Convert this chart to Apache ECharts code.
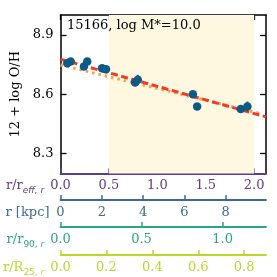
<!DOCTYPE html>
<html>
<head>
<meta charset="utf-8">
<script src="https://cdn.jsdelivr.net/npm/echarts@6/dist/echarts.min.js"></script>
<style>html,body{margin:0;padding:0;background:#fff}#c{width:277px;height:277px}</style>
</head>
<body>
<div id="c"></div>
<script>
// Data (r/r_eff, 12+log O/H)
var pointsR = [0.07, 0.105, 0.242, 0.276, 0.429, 0.470, 0.770, 0.798, 1.367, 1.411, 1.861, 1.930];
var pointsOH = [8.757, 8.765, 8.740, 8.765, 8.731, 8.726, 8.659, 8.673, 8.600, 8.538, 8.525, 8.538];
var pointsErr = [0, 0, 0, 0, 0, 0, 0, 0.025, 0, 0, 0, 0.025];
var fitRedR = [0, 2.122];
var fitRedOH = [8.777, 8.486];
var fitOrangeR = [0, 2.08];
var fitOrangeOH = [8.748, 8.501];
var shadeRange = [0.5, 2.0];
var reffTicks = [0.0, 0.5, 1.0, 1.5, 2.0];
var kpcTicks = [0, 2, 4, 6, 8];
var r90Ticks = [0.0, 0.5, 1.0];
var r25Ticks = [0.0, 0.2, 0.4, 0.6, 0.8];
var yTicks = [8.3, 8.6, 8.9];
var titleText = '15166, log M*=10.0';

var FONT = 'DejaVu Serif';
var C_REFF = '#5a3d8e', C_KPC = '#3c6a94', C_R90 = '#2aa585', C_R25 = '#bdd62c';

function zip(a, b) { return a.map(function (v, i) { return [v, b[i]]; }); }

function bottomAxis(idx, offset, max, ticks, color, name, fmt) {
  return {
    type: 'value', position: 'bottom', gridIndex: 0, offset: offset,
    min: 0, max: max,
    axisLine: { show: true, onZero: false, lineStyle: { color: color, width: 1.8 } },
    axisTick: { show: true, inside: true, length: 5, customValues: ticks, lineStyle: { color: color, width: 1.5 } },
    axisLabel: { show: true, customValues: ticks, margin: 6, color: color, fontSize: 13, fontFamily: FONT,
      formatter: function (v) { return fmt(v); } },
    splitLine: { show: false },
    name: name, nameLocation: 'start', nameGap: 11,
    nameTextStyle: { color: color, fontSize: 13, fontFamily: FONT, verticalAlign: 'top', align: 'right', padding: [6, 0, 0, 0],
      rich: {
        a: { color: color, fontSize: 13, fontFamily: FONT, verticalAlign: 'bottom', padding: [0, 0, 3, 0] },
        s: { color: color, fontSize: 9, fontFamily: 'DejaVu Sans', verticalAlign: 'bottom' },
        i: { color: color, fontSize: 9, fontFamily: 'DejaVu Sans', fontStyle: 'italic', verticalAlign: 'bottom' }
      } }
  };
}
function f1(v) { return v.toFixed(1); }
function f0(v) { return String(Math.round(v)); }

var option = {
  animation: false,
  backgroundColor: '#fff',
  title: { text: titleText, left: 67, top: 19, padding: 0,
    textStyle: { fontFamily: FONT, fontSize: 13, fontWeight: 'normal', color: '#000' } },
  grid: { left: 58, right: 11, top: 15, bottom: 103.5, containLabel: false },
  xAxis: [
    bottomAxis(0, 0, 2.122, reffTicks, C_REFF, '{a|r/r}{i|eff, r}', f1),
    bottomAxis(1, 26.5, 9.95, kpcTicks, C_KPC, '{a|r [kpc]}', f0),
    bottomAxis(2, 53.5, 1.268, r90Ticks, C_R90, '{a|r/r}{s|90, }{i|r}', f1),
    bottomAxis(3, 81.5, 0.895, r25Ticks, C_R25, '{a|r/R}{s|25, }{i|r}', f1),
    { type: 'value', position: 'top', min: 0, max: 2.122,
      axisLine: { show: true, onZero: false, lineStyle: { color: '#000', width: 1.5 } },
      axisTick: { show: true, inside: true, length: 5, customValues: reffTicks, lineStyle: { color: '#000', width: 1.3 } },
      axisLabel: { show: false }, splitLine: { show: false } }
  ],
  yAxis: [
    { type: 'value', position: 'left', min: 8.2, max: 9.0,
      axisLine: { show: true, onZero: false, lineStyle: { color: '#000', width: 1.5 } },
      axisTick: { show: true, inside: true, length: 6, customValues: yTicks, lineStyle: { color: '#000', width: 1.3 } },
      axisLabel: { show: true, customValues: yTicks, margin: 7, color: '#000', fontSize: 13, fontFamily: FONT,
        formatter: function (v) { return v.toFixed(1); } },
      splitLine: { show: false },
      name: '12 + log O/H', nameLocation: 'middle', nameGap: 37, nameRotate: 90,
      nameTextStyle: { color: '#000', fontSize: 13, fontFamily: FONT } },
    { type: 'value', position: 'right', min: 8.2, max: 9.0,
      axisLine: { show: true, onZero: false, lineStyle: { color: '#000', width: 1.5 } },
      axisTick: { show: true, inside: true, length: 6, customValues: yTicks, lineStyle: { color: '#000', width: 1.3 } },
      axisLabel: { show: false }, splitLine: { show: false } }
  ],
  series: [
    { type: 'line', xAxisIndex: 0, yAxisIndex: 0, data: zip(fitOrangeR, fitOrangeOH), showSymbol: false, silent: true, z: 2,
      lineStyle: { color: '#f6a24a', width: 3, type: [2.5, 4] },
      markArea: { silent: true, itemStyle: { color: '#fef8e1' },
        data: [[{ xAxis: shadeRange[0] }, { xAxis: shadeRange[1] }]] } },
    { type: 'line', xAxisIndex: 0, yAxisIndex: 0, data: zip(fitRedR, fitRedOH), showSymbol: false, silent: true, z: 3,
      lineStyle: { color: '#ef3b2a', width: 3, type: [7, 3.5] } },
    { type: 'custom', xAxisIndex: 0, yAxisIndex: 0, z: 4, silent: true,
      data: pointsR.map(function (r, i) { return [r, pointsOH[i], pointsErr[i]]; }),
      renderItem: function (params, api) {
        var e = api.value(2);
        if (!e) return null;
        var p1 = api.coord([api.value(0), api.value(1) - e]);
        var p2 = api.coord([api.value(0), api.value(1) + e]);
        return { type: 'line', shape: { x1: p1[0], y1: p1[1], x2: p2[0], y2: p2[1] },
          style: { stroke: '#0d5a86', lineWidth: 2 } };
      } },
    { type: 'scatter', xAxisIndex: 0, yAxisIndex: 0, data: zip(pointsR, pointsOH), symbol: 'circle', symbolSize: 8.5, z: 5,
      itemStyle: { color: '#0d5a86', opacity: 1 } }
  ]
};
var chart = echarts.init(document.getElementById('c'), null, { renderer: 'canvas' });
chart.setOption(option);
</script>
</body>
</html>
